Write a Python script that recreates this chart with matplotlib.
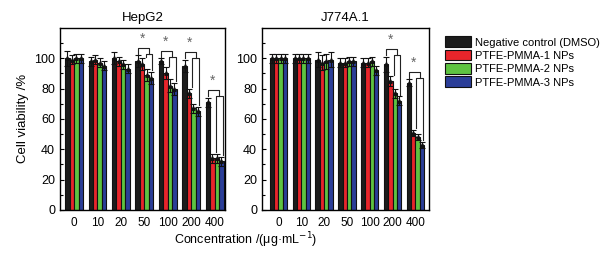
import numpy as np
import matplotlib
matplotlib.use('Agg')
import matplotlib.pyplot as plt

plt.rcParams['font.family'] = ['Liberation Sans', 'DejaVu Sans']

# --- data ---
concentrations = ['0', '10', '20', '50', '100', '200', '400']
series_names = ['Negative control (DMSO)', 'PTFE-PMMA-1 NPs',
                'PTFE-PMMA-2 NPs', 'PTFE-PMMA-3 NPs']
colors = ['#1c1c1c', '#e8252b', '#5ec341', '#2b3e98']

hepg2_ctrl = [100, 98, 100, 98, 98, 95, 71]
hepg2_np1 = [99, 99, 98, 96, 90, 77, 34]
hepg2_np2 = [100, 97, 96, 89, 82, 67, 34]
hepg2_np3 = [100, 95, 93, 87, 80, 65, 32]
hepg2_err_ctrl = [5, 3, 4, 4, 2, 4, 3]
hepg2_err_np = [3, 3, 3, 4, 4, 3, 3]
hepg2_sig = [3, 4, 5, 6]

j774_ctrl = [100, 100, 99, 97, 97, 96, 84]
j774_np1 = [100, 100, 97, 97, 97, 85, 51]
j774_np2 = [100, 100, 98, 98, 98, 77, 48]
j774_np3 = [100, 100, 99, 98, 92, 72, 43]
j774_err_ctrl = [3, 3, 5, 3, 3, 5, 2]
j774_err_np = [3, 3, 5, 3, 3, 3, 2]
j774_sig = [5, 6]


def draw_panel(ax, title, values, err_ctrl, err_np, sig_groups, xlim):
    x = np.arange(len(concentrations))
    w = 0.19
    offsets = (np.arange(4) - 1.5) * w
    for k, vals in enumerate(values):
        errs = err_ctrl if k == 0 else err_np
        ax.bar(x + offsets[k], vals, w, color=colors[k], edgecolor='#111111',
               linewidth=0.8, label=series_names[k], zorder=2)
        ax.errorbar(x + offsets[k], vals, yerr=errs, fmt='^', ms=2.5,
                    color='#111111', ecolor='#111111', elinewidth=0.8,
                    capsize=2, capthick=0.8, zorder=3)

    # significance brackets
    for g in sig_groups:
        xb = g + offsets[0]
        yb = values[0][g] + err_ctrl[g]
        ylow = min(values[k][g] for k in range(1, 4)) + err_np[g]
        ytop = yb + 5
        xa = g + 0.2
        xr = g + 0.34
        ax.plot([xb, xb, xa, xa], [yb + 1, ytop, ytop, ytop - 4],
                color='#222222', lw=0.8, zorder=4)
        ax.plot([g + 0.05, g + 0.05, xr, xr],
                [values[1][g] + err_np[g] + 1, ytop - 4, ytop - 4, ylow + 1],
                color='#222222', lw=0.8, zorder=4)
        ax.text(g - 0.08, ytop + 1.5, '*', ha='center', va='bottom',
                fontsize=10, color='#666666')

    ax.set_xlim(*xlim)
    ax.set_ylim(0, 120)
    ax.set_xticks(x)
    ax.set_xticklabels(concentrations)
    ax.set_yticks([0, 20, 40, 60, 80, 100])
    ax.set_yticks(np.arange(10, 120, 10), minor=True)
    ax.tick_params(axis='y', which='major', direction='in', length=3,
                   labelsize=9, width=0.8)
    ax.tick_params(axis='y', which='minor', direction='in', length=2, width=0.8)
    ax.tick_params(axis='x', length=0, labelsize=8.5, pad=5)
    for s in ax.spines.values():
        s.set_linewidth(1.0)
    ax.set_title(title, fontsize=9.5, pad=5)


fig = plt.figure(figsize=(6.03, 2.56), dpi=100)
ax1 = fig.add_axes([0.0995, 0.180, 0.274, 0.711])
ax2 = fig.add_axes([0.4345, 0.180, 0.277, 0.711])

draw_panel(ax1, 'HepG2', [hepg2_ctrl, hepg2_np1, hepg2_np2, hepg2_np3],
           hepg2_err_ctrl, hepg2_err_np, hepg2_sig, (-0.6, 6.45))
draw_panel(ax2, 'J774A.1', [j774_ctrl, j774_np1, j774_np2, j774_np3],
           j774_err_ctrl, j774_err_np, j774_sig, (-0.72, 6.6))

ax1.set_ylabel('Cell viability /%', fontsize=9.5, labelpad=4)
fig.text(0.407, 0.06, 'Concentration /(\u03bcg\u00b7mL$^{-1}$)', ha='center',
         va='center', fontsize=9)

handles, labels = ax1.get_legend_handles_labels()
fig.legend(handles, labels, loc='upper left', bbox_to_anchor=(0.731, 0.875),
           frameon=False, fontsize=8, handlelength=2.3, handleheight=1.1,
           labelspacing=0.2, handletextpad=0.4, borderaxespad=0)

fig.savefig('out.png', dpi=100)
